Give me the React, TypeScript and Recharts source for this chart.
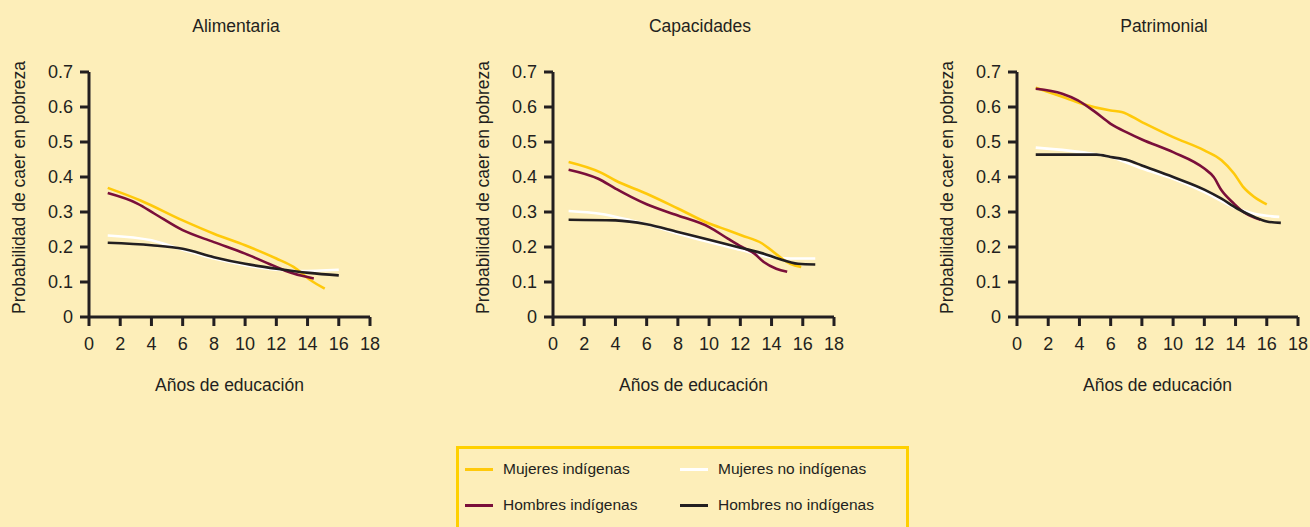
import { LineChart, Line, XAxis, YAxis } from "recharts";

type Pt = [number, number];

const FONT = '"Liberation Sans", Arial, sans-serif';
const INK = "#231f20";
const BG = "#fdeeb9";

const X_TICKS = [0, 2, 4, 6, 8, 10, 12, 14, 16, 18];
const Y_TICKS = [0, 0.1, 0.2, 0.3, 0.4, 0.5, 0.6, 0.7];

const PANEL_TITLES = ["Alimentaria", "Capacidades", "Patrimonial"];

// series: mujeres indígenas, mujeres no indígenas, hombres indígenas, hombres no indígenas
const SERIES_KEYS = ["mi", "mn", "hi", "hn"] as const;
const SERIES_NAMES = {
  mi: "Mujeres indígenas",
  mn: "Mujeres no indígenas",
  hi: "Hombres indígenas",
  hn: "Hombres no indígenas",
};
const SERIES_COLORS = {
  mi: "#ffc90a",
  mn: "#ffffff",
  hi: "#7a0f3a",
  hn: "#231f20",
};

// Alimentaria
const alimMi: Pt[] = [[1.2, 0.369], [3.3, 0.333], [6, 0.276], [8, 0.238], [10, 0.205], [12, 0.167], [13.1, 0.143], [14.2, 0.105], [15.1, 0.081]];
const alimHi: Pt[] = [[1.2, 0.354], [3.1, 0.324], [4.2, 0.295], [6, 0.248], [8, 0.214], [10, 0.181], [12, 0.143], [13.1, 0.124], [14.4, 0.11]];
const alimMn: Pt[] = [[1.2, 0.233], [4, 0.219], [6, 0.192], [8, 0.167], [10, 0.148], [12, 0.135], [13.5, 0.131], [16, 0.135]];
const alimHn: Pt[] = [[1.2, 0.212], [4, 0.205], [6, 0.195], [8, 0.171], [10, 0.152], [12, 0.138], [14.1, 0.126], [16, 0.119]];

// Capacidades
const capMi: Pt[] = [[1, 0.443], [3, 0.414], [4, 0.39], [6, 0.352], [8, 0.31], [10, 0.267], [11.2, 0.248], [12.1, 0.233], [13.4, 0.21], [14.4, 0.176], [15.2, 0.152], [15.9, 0.143]];
const capHi: Pt[] = [[1, 0.421], [2.9, 0.395], [4, 0.367], [5, 0.343], [6, 0.322], [8, 0.29], [10, 0.257], [11.2, 0.224], [12.1, 0.2], [12.9, 0.181], [13.5, 0.157], [14.3, 0.138], [15, 0.129]];
const capMn: Pt[] = [[1, 0.303], [3, 0.295], [5, 0.276], [6, 0.265], [8, 0.238], [10, 0.214], [12, 0.192], [13.9, 0.171], [15.2, 0.167], [16.8, 0.167]];
const capHn: Pt[] = [[1, 0.278], [4, 0.276], [6, 0.265], [8, 0.243], [10, 0.221], [12, 0.198], [13.5, 0.181], [14.4, 0.167], [15.7, 0.152], [16.8, 0.15]];

// Patrimonial
const patMi: Pt[] = [[1.2, 0.655], [2.9, 0.629], [4.1, 0.61], [6, 0.59], [6.7, 0.586], [8, 0.557], [10, 0.514], [12, 0.476], [13.1, 0.448], [13.9, 0.41], [14.5, 0.371], [15.2, 0.343], [16, 0.322]];
const patHi: Pt[] = [[1.2, 0.652], [2.9, 0.638], [3.9, 0.619], [5, 0.586], [6, 0.552], [7.1, 0.526], [8, 0.507], [10, 0.471], [12, 0.424], [12.6, 0.4], [13.1, 0.362], [13.9, 0.324], [14.5, 0.3], [15.2, 0.284], [15.6, 0.278]];
const patMn: Pt[] = [[1.2, 0.484], [4.1, 0.471], [6, 0.457], [8, 0.424], [10, 0.395], [12, 0.357], [14.1, 0.31], [15.2, 0.295], [16.8, 0.286]];
const patHn: Pt[] = [[1.2, 0.464], [5.1, 0.464], [6, 0.457], [7.1, 0.448], [8, 0.433], [10, 0.4], [12, 0.364], [13.1, 0.338], [14.1, 0.31], [15.2, 0.286], [16, 0.273], [16.9, 0.269]];

const PANELS = [
  { title: PANEL_TITLES[0], series: { mi: alimMi, mn: alimMn, hi: alimHi, hn: alimHn } },
  { title: PANEL_TITLES[1], series: { mi: capMi, mn: capMn, hi: capHi, hn: capHn } },
  { title: PANEL_TITLES[2], series: { mi: patMi, mn: patMn, hi: patHi, hn: patHn } },
];

// white first so the coloured lines sit on top of it
const DRAW_ORDER = ["mn", "mi", "hi", "hn"] as const;

const toRows = (pts: Pt[]) => pts.map(([x, y]) => ({ x, y }));

const axisStroke = { stroke: INK, strokeWidth: 3 };
const tickStyle = { fill: INK, fontSize: 18, fontFamily: FONT };

function Panel({ title, series, left }: { title: string; series: Record<string, Pt[]>; left: number }) {
  return (
    <div style={{ position: "absolute", left, top: 0, width: 380, height: 400 }}>
      <div
        style={{
          position: "absolute",
          left: 136,
          top: 16,
          width: 200,
          textAlign: "center",
          fontFamily: FONT,
          fontSize: 17.5,
          color: INK,
          lineHeight: "normal",
        }}
      >
        {title}
      </div>
      <LineChart width={380} height={400} margin={{ top: 72, right: 10, left: 4, bottom: 3 }}>
        <XAxis
          type="number"
          dataKey="x"
          domain={[0, 18]}
          ticks={X_TICKS}
          interval={0}
          height={80}
          axisLine={axisStroke}
          tickLine={axisStroke}
          tickSize={9}
          tickMargin={11}
          tick={tickStyle}
          label={{
            value: "Años de educación",
            position: "insideBottom",
            offset: 6,
            fill: INK,
            fontSize: 17.5,
            fontFamily: FONT,
          }}
        />
        <YAxis
          type="number"
          domain={[0, 0.7]}
          ticks={Y_TICKS}
          interval={0}
          width={85}
          axisLine={axisStroke}
          tickLine={axisStroke}
          tickSize={9}
          tickMargin={7}
          tick={tickStyle}
          tickFormatter={(v: number) => (v === 0 ? "0" : v.toFixed(1))}
          label={{
            value: "Probabilidad de caer en pobreza",
            angle: -90,
            position: "insideLeft",
            offset: 15,
            dy: -7,
            fill: INK,
            fontSize: 17.5,
            fontFamily: FONT,
            style: { textAnchor: "middle" },
          }}
        />
        {DRAW_ORDER.map((k) => (
          <Line
            key={k}
            data={toRows(series[k])}
            dataKey="y"
            type="monotone"
            stroke={SERIES_COLORS[k]}
            strokeWidth={2.6}
            dot={false}
            activeDot={false}
            isAnimationActive={false}
          />
        ))}
      </LineChart>
    </div>
  );
}

const LEGEND_LAYOUT = [
  { key: "mi", col: 0, row: 0 },
  { key: "mn", col: 1, row: 0 },
  { key: "hi", col: 0, row: 1 },
  { key: "hn", col: 1, row: 1 },
] as const;

export default function App() {
  return (
    <div
      style={{
        position: "fixed",
        left: 0,
        top: 0,
        width: 1310,
        height: 527,
        overflow: "hidden",
        background: BG,
        fontFamily: FONT,
      }}
    >
      {PANELS.map((p, i) => (
        <Panel key={p.title} title={p.title} series={p.series} left={i * 464} />
      ))}
      <div
        style={{
          position: "absolute",
          left: 456,
          top: 446,
          width: 453,
          height: 110,
          border: "3px solid #ffd000",
          boxSizing: "border-box",
        }}
      >
        {LEGEND_LAYOUT.map(({ key, col, row }) => (
          <div
            key={key}
            style={{
              position: "absolute",
              left: 6 + col * 215,
              top: 10 + row * 36,
              height: 20,
              display: "flex",
              alignItems: "center",
              whiteSpace: "nowrap",
            }}
          >
            <span
              style={{
                display: "inline-block",
                width: 28,
                height: 3,
                background: SERIES_COLORS[key],
                marginRight: 10,
              }}
            />
            <span style={{ fontSize: 15.5, color: INK }}>{SERIES_NAMES[key]}</span>
          </div>
        ))}
      </div>
    </div>
  );
}
